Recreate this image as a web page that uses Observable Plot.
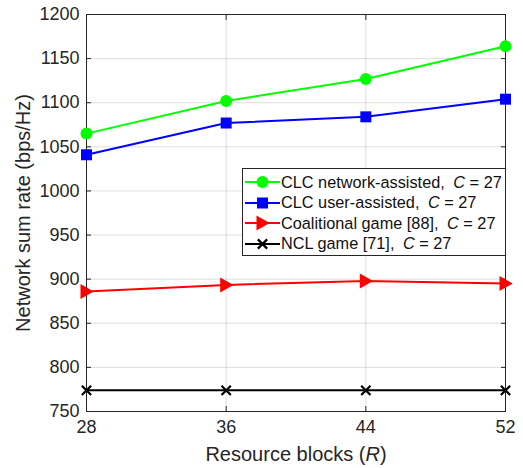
<!DOCTYPE html>
<html><head><meta charset="utf-8">
<script src="https://cdn.jsdelivr.net/npm/d3@7"></script>
<script src="https://cdn.jsdelivr.net/npm/@observablehq/plot@0.6"></script>
<style>
html,body{margin:0;padding:0;background:#fff;}
#wrap{position:relative;width:523px;height:468px;font-family:"Liberation Sans",Arial,Helvetica,sans-serif;}
#legend{position:absolute;left:242px;top:168px;width:262px;border:1px solid #262626;background:#fff;box-sizing:content-box;padding-top:3px;height:83px;}
#legend .row{display:flex;align-items:center;height:20.5px;}
#legend svg{display:block;flex:none;}
#legend span{font-size:16.3px;color:#111;white-space:nowrap;}
#legend i{margin-left:4px;}
</style></head><body><div id="wrap"></div>
<script>
const R = [28, 36, 44, 52];
const networkAssisted = [1065, 1102, 1127, 1164];
const userAssisted = [1041, 1077, 1084, 1104];
const coalitional = [886, 893.5, 898, 895];
const ncl = [774, 774, 774, 774];
const xTicks = [28, 36, 44, 52];
const yTicks = [750, 800, 850, 900, 950, 1000, 1050, 1100, 1150, 1200];
const seriesNames = ["CLC network-assisted", "CLC user-assisted", "Coalitional game [88]", "NCL game [71]"];
const seriesValues = [networkAssisted, userAssisted, coalitional, ncl];
const colors = ["#00ff00", "#0000ff", "#ff0000", "#000000"];
const C = 27;

const triRight = {draw(ctx, size) {
  const r = Math.sqrt(size / Math.PI);
  ctx.moveTo(1.2 * r, 0); ctx.lineTo(-r, -1.25 * r); ctx.lineTo(-r, 1.25 * r); ctx.closePath();
}};
const plotSymbols = ["circle", "square", triRight, "times"];
const d3Symbols = [d3.symbolCircle, d3.symbolSquare, triRight, d3.symbolTimes];
const radii = [6, 6.2, 6, 4.3];

const tickColor = "#262626";

const seriesMarks = seriesValues.flatMap((vals, i) => {
  const data = R.map((r, j) => ({R: r, rate: vals[j]}));
  const filled = i < 3;
  return [
    Plot.line(data, {x: "R", y: "rate", stroke: colors[i], strokeWidth: 2}),
    Plot.dot(data, {x: "R", y: "rate", symbol: plotSymbols[i], r: radii[i],
      fill: filled ? colors[i] : "none", stroke: filled ? "none" : colors[i], strokeWidth: filled ? 0 : 2.2})
  ];
});

const chart = Plot.plot({
  width: 523, height: 468,
  marginLeft: 86, marginRight: 18, marginTop: 14, marginBottom: 57,
  style: {fontFamily: '"Liberation Sans", Arial, Helvetica, sans-serif', background: "#fff", color: tickColor},
  x: {domain: [28, 52]},
  y: {domain: [750, 1200]},
  marks: [
    Plot.gridX(xTicks, {stroke: tickColor, strokeOpacity: 0.15}),
    Plot.gridY(yTicks, {stroke: tickColor, strokeOpacity: 0.15}),
    Plot.frame({stroke: tickColor}),
    Plot.axisX(xTicks, {anchor: "bottom", tickSize: -5, fill: "none", label: null, stroke: tickColor}),
    Plot.axisX(xTicks, {anchor: "top", tickSize: -5, fill: "none", label: null, stroke: tickColor}),
    Plot.axisY(yTicks, {anchor: "left", tickSize: -5, fill: "none", label: null, stroke: tickColor}),
    Plot.axisY(yTicks, {anchor: "right", tickSize: -5, fill: "none", label: null, stroke: tickColor}),
    Plot.axisX(xTicks, {anchor: "bottom", tickSize: 0, tickPadding: 9, fontSize: 18, fill: tickColor,
      tickFormat: d3.format("d"),
      label: "Resource blocks (R)", labelAnchor: "center", labelOffset: 49, labelArrow: "none"}),
    Plot.axisY(yTicks, {anchor: "left", tickSize: 0, tickPadding: 7, fontSize: 18, fill: tickColor,
      tickFormat: d3.format("d"),
      label: "Network sum rate (bps/Hz)", labelAnchor: "center", labelOffset: 71, labelArrow: "none"}),
    ...seriesMarks
  ]
});

// label styling: larger font, italic R
const svg = d3.select(chart);
svg.selectAll('g[aria-label="x-axis label"] text, g[aria-label="y-axis label"] text').attr("font-size", 20);
svg.selectAll('g[aria-label="x-axis label"] text').each(function() {
  const t = d3.select(this);
  t.text("");
  t.append("tspan").text("Resource blocks (");
  t.append("tspan").attr("font-style", "italic").text("R");
  t.append("tspan").text(")");
});

document.getElementById("wrap").appendChild(chart);

// legend
const legend = d3.select("#wrap").append("div").attr("id", "legend");
seriesNames.forEach((name, i) => {
  const row = legend.append("div").attr("class", "row");
  const s = row.append("svg").attr("width", 38).attr("height", 20);
  s.append("line").attr("x1", 2).attr("x2", 37).attr("y1", 10).attr("y2", 10)
    .attr("stroke", colors[i]).attr("stroke-width", 2);
  const filled = i < 3;
  s.append("path").attr("d", d3.symbol(d3Symbols[i], Math.PI * radii[i] * radii[i])())
    .attr("transform", "translate(19.5,10)")
    .attr("fill", filled ? colors[i] : "none")
    .attr("stroke", filled ? "none" : colors[i]).attr("stroke-width", filled ? 0 : 2.2);
  row.append("span").html(`${name}, <i>C</i> = ${C}`);
});
</script>
</body></html>
